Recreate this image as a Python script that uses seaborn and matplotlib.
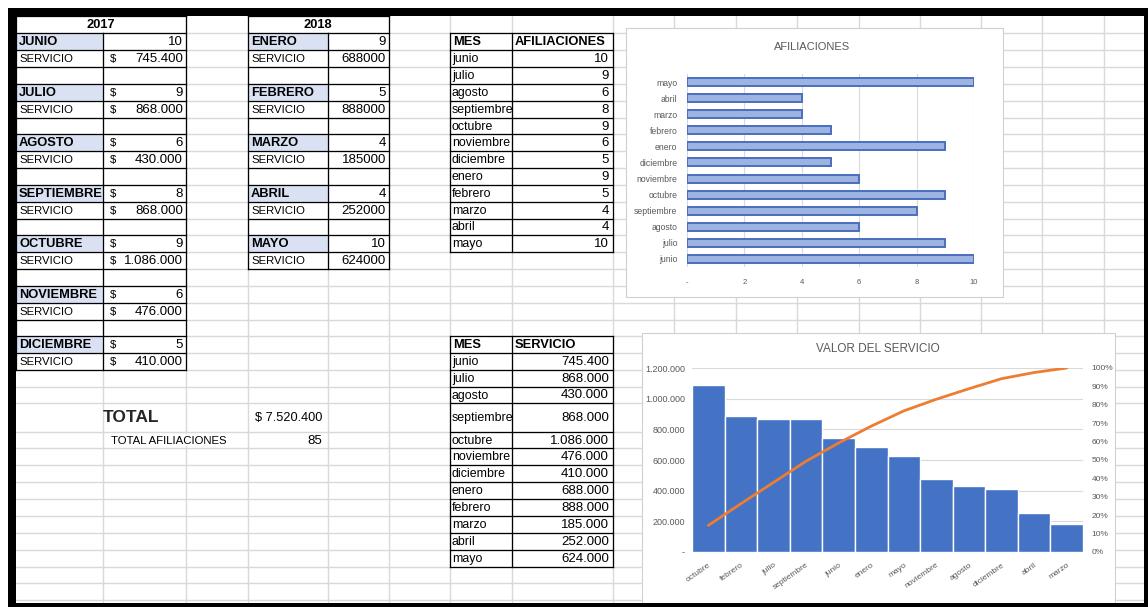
import numpy as np
import pandas as pd
import matplotlib
matplotlib.use('Agg')
import matplotlib.pyplot as plt
import seaborn as sns
from matplotlib.patches import Rectangle
from matplotlib.ticker import FuncFormatter, MultipleLocator

# ---------------- data ----------------
meses_2017 = ['JUNIO', 'JULIO', 'AGOSTO', 'SEPTIEMBRE', 'OCTUBRE', 'NOVIEMBRE', 'DICIEMBRE']
afil_2017 = [10, 9, 6, 8, 9, 6, 5]
serv_2017 = [745400, 868000, 430000, 868000, 1086000, 476000, 410000]

meses_2018 = ['ENERO', 'FEBRERO', 'MARZO', 'ABRIL', 'MAYO']
afil_2018 = [9, 5, 4, 4, 10]
serv_2018 = [688000, 888000, 185000, 252000, 624000]

meses = [m.lower() for m in meses_2017 + meses_2018]
afiliaciones = afil_2017 + afil_2018
servicio = serv_2017 + serv_2018

titulo_afil = 'AFILIACIONES'
titulo_serv = 'VALOR DEL SERVICIO'

# ---------------- style ----------------
sns.set_theme(style='white')
NARROW = ['Liberation Sans Narrow', 'Liberation Sans', 'DejaVu Sans']
plt.rcParams['font.family'] = NARROW
CHARTF = ['Liberation Sans', 'DejaVu Sans']

W, H = 1148, 607
fig = plt.figure(figsize=(W / 100, H / 100), dpi=100)
bg = fig.add_axes([0, 0, 1, 1])
bg.set_xlim(0, W)
bg.set_ylim(H, 0)
bg.axis('off')

col_x = [16, 103, 186, 248, 328, 389, 450, 512, 613, 674, 736, 797, 859, 920,
         981, 1042, 1104, 1144]
row_y = [16, 33, 50, 67, 84, 101, 118, 134, 151, 168, 185, 202, 219, 235, 252,
         269, 286, 303, 320, 336, 353, 370, 387, 403, 432, 448, 465, 482, 499,
         516, 533, 550, 567, 583, 600]

GRID = '#D9D9D9'
for x in col_x[1:-1]:
    bg.plot([x, x], [16, 603], color=GRID, lw=1.0, zorder=1)
for y in row_y[1:]:
    bg.plot([16, 1144], [y, y], color=GRID, lw=1.0, zorder=1)

# hide gridlines under merged cells / overflowing text
for (x0, x1, y0, y1) in [(16, 186, 16, 33), (248, 389, 16, 33), (104, 247, 433, 447)]:
    bg.add_patch(Rectangle((x0 + 1, y0 + 1), x1 - x0 - 2, y1 - y0 - 2,
                           facecolor='white', edgecolor='none', zorder=2))

SHADE = '#D9E1F2'


def black(xs, ys):
    bg.plot(xs, ys, color='black', lw=0.9, zorder=4, solid_capstyle='projecting')


def fmt_miles(v):
    return f'{v:,}'.replace(',', '.')


def rc(r):
    return (row_y[r] + row_y[r + 1]) / 2 + 0.5


BASE = dict(color='black', va='center', zorder=5)
BOLD = dict(fontsize=9.3, fontweight='bold', **BASE)     # bold headings
UPR = dict(fontsize=8.2, **BASE)                         # regular upper-case words
LOW = dict(fontsize=8.9, **BASE)                         # lower-case month names
NUM = dict(fontsize=9.5, **BASE)                         # numbers

# ---- 2017 table ----
for i, (m, a, s) in enumerate(zip(meses_2017, afil_2017, serv_2017)):
    r = 1 + 3 * i
    bg.add_patch(Rectangle((16, row_y[r]), 103 - 16, row_y[r + 1] - row_y[r],
                           facecolor=SHADE, edgecolor='none', zorder=3))
    bg.text(19, rc(r), m, ha='left', **BOLD)
    if i > 0:
        bg.text(110, rc(r), '$', ha='left', **UPR)
    bg.text(183, rc(r), str(a), ha='right', **NUM)
    bg.text(19, rc(r + 1), 'SERVICIO', ha='left', **UPR)
    bg.text(110, rc(r + 1), '$', ha='left', **UPR)
    bg.text(183, rc(r + 1), fmt_miles(s), ha='right', **NUM)
for y in row_y[0:22]:
    black([16, 186], [y, y])
black([16, 16], [16, 370])
black([186, 186], [16, 370])
black([103, 103], [33, 370])
bg.text(101, rc(0), '2017', ha='center', **BOLD)

# ---- 2018 table ----
for i, (m, a, s) in enumerate(zip(meses_2018, afil_2018, serv_2018)):
    r = 1 + 3 * i
    bg.add_patch(Rectangle((248, row_y[r]), 328 - 248, row_y[r + 1] - row_y[r],
                           facecolor=SHADE, edgecolor='none', zorder=3))
    bg.text(251, rc(r), m, ha='left', **BOLD)
    bg.text(386, rc(r), str(a), ha='right', **NUM)
    bg.text(251, rc(r + 1), 'SERVICIO', ha='left', **UPR)
    bg.text(386, rc(r + 1), str(s), ha='right', **NUM)
for y in row_y[0:16]:
    black([248, 389], [y, y])
black([248, 248], [16, 269])
black([389, 389], [16, 269])
black([328, 328], [33, 269])
bg.text(318, rc(0), '2018', ha='center', **BOLD)

# ---- MES / AFILIACIONES table ----
bg.text(453, rc(1), 'MES', ha='left', **BOLD)
bg.text(515, rc(1), 'AFILIACIONES', ha='left', **BOLD)
for k, (m, a) in enumerate(zip(meses, afiliaciones)):
    r = 2 + k
    bg.text(452, rc(r), m, ha='left', **LOW)
    bg.text(609, rc(r), str(a), ha='right', **NUM)
for y in row_y[1:15]:
    black([450, 613], [y, y])
for x in [450, 512, 613]:
    black([x, x], [33, 252])

# ---- MES / SERVICIO table ----
bg.text(453, rc(19), 'MES', ha='left', **BOLD)
bg.text(515, rc(19), 'SERVICIO', ha='left', **BOLD)
for k, (m, s) in enumerate(zip(meses, servicio)):
    r = 20 + k
    bg.text(452, rc(r), m, ha='left', **LOW)
    bg.text(609, rc(r), fmt_miles(s), ha='right', **NUM)
for y in row_y[19:33]:
    black([450, 613], [y, y])
for x in [450, 512, 613]:
    black([x, x], [336, 567])

# ---- totals ----
bg.text(103, rc(23), 'TOTAL', fontweight='bold', ha='left', va='center',
        fontsize=12.5, family=['Liberation Sans', 'DejaVu Sans'], zorder=5)
bg.text(322, rc(23), '$ ' + fmt_miles(sum(servicio)), ha='right',
        fontsize=9.2, color='black', va='center', zorder=5)
bg.text(111, rc(24), 'TOTAL AFILIACIONES', ha='left', **UPR)
bg.text(322, rc(24), str(sum(afiliaciones)), ha='right', **NUM)

# ---- chart boxes ----
bg.add_patch(Rectangle((626, 28), 1003 - 626, 297 - 28, facecolor='white',
                       edgecolor='#D0D0D0', lw=0.8, zorder=6))
bg.add_patch(Rectangle((642, 333), 1115 - 642, 606 - 333, facecolor='white',
                       edgecolor='#D0D0D0', lw=0.8, zorder=6))
bg.text(812, 47, titulo_afil, ha='center', va='center', fontsize=8, color='#595959',
        family=CHARTF, zorder=7)
bg.text(878, 349, titulo_serv, ha='center', va='center', fontsize=8.5, color='#595959',
        family=CHARTF, zorder=7)

# ---- black frame ----
for (x0, y0, w, h) in [(8, 8, 1140, 8), (8, 8, 8, 599), (8, 603, 1140, 4), (1144, 8, 4, 599)]:
    bg.add_patch(Rectangle((x0, y0), w, h, facecolor='black', edgecolor='none', zorder=10))

GRAY = '#595959'

# ---------------- chart 1: AFILIACIONES ----------------
ax1 = fig.add_axes([687 / W, 1 - 267 / H, (974 - 687) / W, (267 - 74) / H])
df1 = pd.DataFrame({'mes': meses, 'afil': afiliaciones})
sns.barplot(data=df1, y='mes', x='afil', order=meses[::-1], orient='h', ax=ax1,
            color='#9DB3E2', edgecolor='#4A6FBF', linewidth=1.4, width=0.5,
            saturation=1, errorbar=None)
ax1.set_xlim(0, 10)
ax1.set_ylim(11.5, -0.5)
ax1.set_facecolor('none')
ax1.xaxis.set_major_locator(MultipleLocator(2))
ax1.xaxis.set_major_formatter(FuncFormatter(lambda v, p: '-' if v == 0 else f'{int(v)}'))
ax1.xaxis.grid(True, color=GRID, lw=0.8)
ax1.yaxis.grid(False)
ax1.set_axisbelow(True)
for s in ax1.spines.values():
    s.set_visible(False)
ax1.set_xlabel('')
ax1.set_ylabel('')
ax1.tick_params(axis='x', labelsize=5.5, colors=GRAY, length=0, pad=9)
ax1.tick_params(axis='y', labelsize=6.2, colors=GRAY, length=0, pad=7)
for t in ax1.get_xticklabels() + ax1.get_yticklabels():
    t.set_family(CHARTF)

# ---------------- chart 2: VALOR DEL SERVICIO (Pareto) ----------------
df2 = pd.DataFrame({'mes': meses, 'serv': servicio})
df2 = df2.sort_values('serv', ascending=False, kind='stable').reset_index(drop=True)
df2['acum'] = df2['serv'].cumsum() / df2['serv'].sum()

ax2 = fig.add_axes([692 / W, 1 - 552 / H, (1083 - 692) / W, (552 - 368) / H])
sns.barplot(data=df2, x='mes', y='serv', order=list(df2['mes']), ax=ax2,
            color='#4472C4', edgecolor='white', linewidth=1.0, width=1.0,
            saturation=1, errorbar=None)
ax2.set_xlim(-0.5, 11.5)
ax2.set_ylim(0, 1200000)
ax2.set_facecolor('none')
ax2.yaxis.set_major_locator(MultipleLocator(200000))
ax2.yaxis.set_major_formatter(FuncFormatter(lambda v, p: '-' if v == 0 else fmt_miles(int(v))))
ax2.yaxis.grid(True, color=GRID, lw=0.8)
ax2.xaxis.grid(False)
ax2.set_axisbelow(True)
for s in ax2.spines.values():
    s.set_visible(False)
ax2.set_xlabel('')
ax2.set_ylabel('')
ax2.tick_params(axis='y', labelsize=6.5, colors=GRAY, length=0, pad=5)
ax2.tick_params(axis='x', labelsize=6.0, colors=GRAY, length=0, pad=7)
for t in ax2.get_xticklabels():
    t.set_rotation(35)
    t.set_ha('right')
    t.set_rotation_mode('anchor')
for t in ax2.get_xticklabels() + ax2.get_yticklabels():
    t.set_family(CHARTF)

ax2r = ax2.twinx()
sns.lineplot(x=np.arange(len(df2)), y=df2['acum'].values, ax=ax2r,
             color='#ED7D31', lw=2)
ax2r.set_ylim(0, 1)
ax2r.set_xlim(-0.5, 11.5)
ax2r.yaxis.set_major_locator(MultipleLocator(0.1))
ax2r.yaxis.set_major_formatter(FuncFormatter(lambda v, p: f'{v:.0%}'))
ax2r.grid(False)
for s in ax2r.spines.values():
    s.set_visible(False)
ax2r.set_ylabel('')
ax2r.tick_params(axis='y', labelsize=6.0, colors=GRAY, length=0, pad=6)
for t in ax2r.get_yticklabels():
    t.set_family(CHARTF)

fig.savefig('out.png', dpi=100)
